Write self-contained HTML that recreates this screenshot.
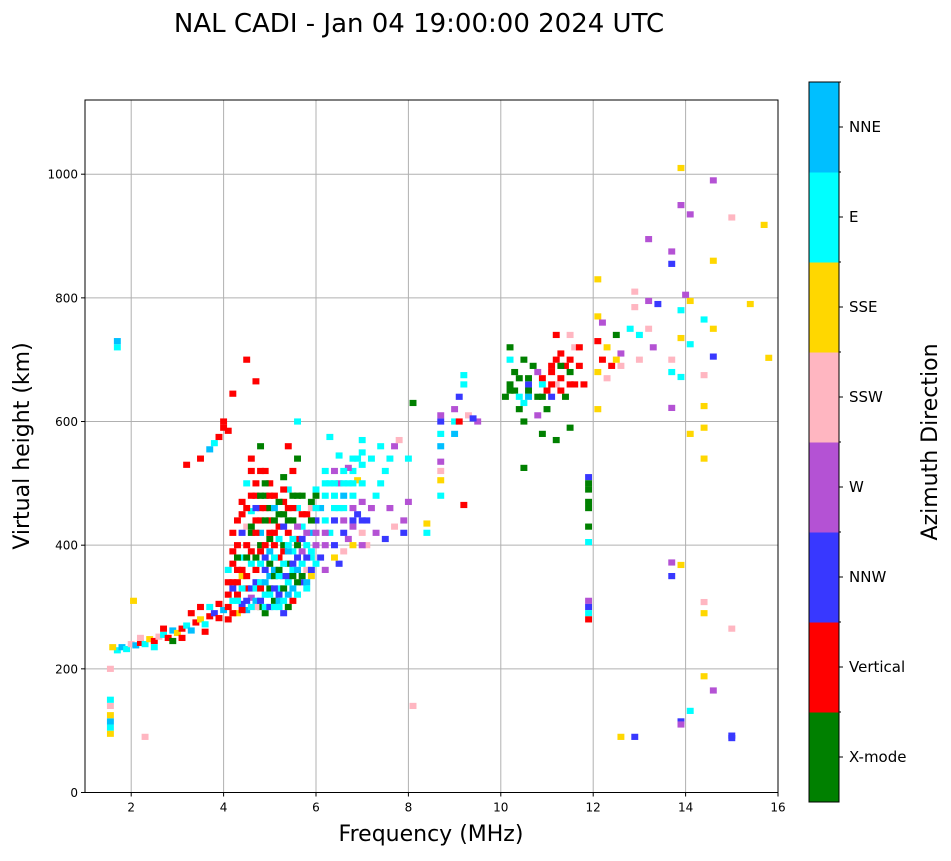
<!DOCTYPE html>
<html><head><meta charset="utf-8"><style>
html,body{margin:0;padding:0;background:#fff}
svg text{font-family:"DejaVu Sans","Liberation Sans",sans-serif}
</style></head><body>
<svg id="chart" width="951" height="856" viewBox="0 0 951 856" xmlns="http://www.w3.org/2000/svg">
<text x="419" y="32" font-size="26" text-anchor="middle">NAL CADI - Jan 04 19:00:00 2024 UTC</text>
<g id="grid"></g>
<g id="marks"></g>
<rect x="85" y="100" width="693" height="692.5" fill="none" stroke="#000" stroke-width="1"/>
<g id="axes"></g>
<text x="431" y="841" font-size="22" text-anchor="middle">Frequency (MHz)</text>
<text transform="translate(29,446) rotate(-90)" font-size="22" text-anchor="middle">Virtual height (km)</text>
<g id="cbar"></g>
<text transform="translate(937,442) rotate(-90)" font-size="22" text-anchor="middle">Azimuth Direction</text>
</svg>
<script>
const dirLabels=["X-mode","Vertical","NNW","W","SSW","SSE","E","NNE"];
const dirColors=["#008000","#ff0000","#3838ff","#b452d4","#ffb6c1","#ffd700","#00ffff","#00bfff"];
const xTicks=[2,4,6,8,10,12,14,16];
const yTicks=[0,200,400,600,800,1000];
const freqs=[1.55,1.55,1.55,1.55,1.55,1.55,1.55,1.7,1.8,1.9,2.0,1.6,1.7,1.7,
2.1,2.2,2.3,2.4,2.5,2.6,2.7,2.8,2.9,3.0,2.2,2.5,2.7,2.9,2.05,
3.1,3.2,3.3,3.4,3.5,3.6,3.7,3.8,3.9,4.0,3.3,3.5,3.7,3.9,3.2,3.5,3.7,3.8,3.9,4.0,4.0,4.1,4.2,3.1,3.6,
4.1,4.2,4.3,4.4,4.5,4.6,4.7,4.8,4.9,5.0,4.2,4.3,4.4,4.5,4.6,4.7,4.8,4.9,5.0,4.1,4.3,4.5,4.7,4.9,4.4,4.6,4.8,5.0,4.3,4.5,4.7,4.9,4.6,4.8,4.5,4.7,4.6,4.8,5.0,4.4,4.2,4.9,4.7,5.0,4.8,
5.1,5.2,5.3,5.4,5.5,5.6,5.7,5.8,5.9,6.0,5.1,5.2,5.3,5.4,5.5,5.6,5.7,5.8,5.9,6.0,5.1,5.2,5.3,5.4,5.5,5.6,5.2,5.4,5.6,5.8,5.3,5.5,5.1,5.3,5.7,5.9,6.0,5.5,5.7,5.9,5.4,5.6,
6.1,6.2,6.3,6.4,6.5,6.6,6.7,6.8,6.9,7.0,6.1,6.2,6.3,6.4,6.5,6.6,6.7,6.8,6.9,7.0,6.3,6.5,6.7,6.9,6.2,6.4,6.6,6.8,7.0,6.5,6.8,
7.1,7.2,7.3,7.4,7.5,7.6,7.7,7.8,7.1,7.3,7.5,7.7,7.9,7.2,7.4,7.0,7.9,8.0,8.0,7.6,
8.1,8.4,8.4,8.7,8.7,8.7,8.7,8.7,8.7,8.7,8.7,9.0,9.0,9.0,9.1,9.1,9.2,9.2,9.3,9.2,9.5,9.4,
10.1,10.2,10.3,10.4,10.5,10.6,10.7,10.8,10.9,11.0,11.1,11.2,11.3,11.4,11.5,11.6,11.7,11.8,10.4,10.5,10.6,10.8,11.0,11.1,11.2,11.4,11.6,10.2,10.5,10.9,11.2,11.5,11.7,11.2,10.5,11.5,10.8,11.3,10.3,
11.9,11.9,11.9,11.9,11.9,11.9,11.9,11.9,11.9,11.9,11.9,
12.1,12.2,12.3,12.4,12.5,12.6,12.8,12.9,13.0,13.2,13.3,12.1,12.1,12.1,12.1,12.3,12.6,13.0,13.2,13.4,13.2,12.9,12.2,12.5,
13.7,13.7,13.9,13.9,14.1,14.6,14.6,15.0,15.7,15.4,15.8,14.1,13.9,13.9,14.1,14.4,14.6,14.6,13.7,13.7,13.9,14.4,13.7,14.1,14.4,14.4,14.4,13.7,13.9,13.7,14.4,14.4,15.0,14.4,14.6,14.1,13.9,13.9,15.0,15.0,12.6,12.9,2.3,8.1,14.0,
4.1,4.1,4.1,4.2,4.2,4.2,4.2,4.3,4.3,4.3,4.3,4.4,4.4,4.4,4.4,4.4,4.5,4.5,4.5,4.5,4.5,4.6,4.6,4.6,4.6,4.6,4.6,4.7,4.7,4.7,4.7,4.7,4.7,
4.8,4.8,4.8,4.8,4.8,4.8,4.8,4.9,4.9,4.9,4.9,4.9,4.9,4.9,5.0,5.0,5.0,5.0,5.0,5.0,5.0,5.1,5.1,5.1,5.1,5.1,5.1,5.1,5.2,5.2,5.2,5.2,5.2,5.2,5.2,
5.3,5.3,5.3,5.3,5.3,5.3,5.3,5.4,5.4,5.4,5.4,5.4,5.4,5.4,5.5,5.5,5.5,5.5,5.5,5.5,5.6,5.6,5.6,5.6,5.6,5.6,5.7,5.7,5.7,5.7,5.8,5.8,5.8,5.8,5.9,5.9,5.9,5.9,6.0,6.0,6.0,6.0,
6.2,6.2,6.2,6.2,6.4,6.4,6.4,6.4,6.6,6.6,6.6,6.6,6.8,6.8,6.8,6.8,7.0,7.0,7.0,7.0,
10.6,10.6,10.9,10.9,11.1,11.1,11.3,11.3,11.5,11.5,10.2,10.2,10.4];
const heights=[95,105,115,125,140,150,200,230,235,232,240,235,720,730,
238,242,240,248,245,252,255,250,262,258,250,235,265,245,310,
265,270,262,275,280,272,285,290,282,295,290,300,300,305,530,540,555,565,575,590,600,585,645,250,260,
300,310,320,305,330,315,340,300,320,350,340,360,380,400,420,440,460,480,500,280,290,295,300,290,350,370,390,410,400,430,480,520,540,560,700,665,455,420,440,450,390,380,360,330,340,
310,330,350,370,390,410,430,450,470,490,360,380,400,420,440,460,340,360,380,400,420,450,470,490,520,540,300,320,340,330,290,310,480,510,390,420,440,360,480,350,560,600,
380,400,420,440,460,480,500,520,540,550,460,480,500,520,370,390,410,430,450,470,575,545,525,505,360,380,420,400,420,500,480,
440,460,480,500,520,540,560,570,400,420,410,430,440,540,560,570,420,470,540,460,
630,435,420,480,520,560,580,600,610,535,505,580,600,620,640,600,660,675,610,465,600,605,
640,700,650,670,630,660,690,640,670,650,680,700,670,690,680,720,690,660,620,600,640,680,620,640,660,640,660,720,700,580,570,740,720,740,525,590,610,710,680,
510,500,490,470,460,430,405,310,300,290,280,
680,700,720,690,740,710,750,785,700,750,720,730,830,770,620,670,690,740,795,790,895,810,760,700,
875,855,950,1010,935,990,860,930,918,790,703,795,780,735,725,765,750,705,700,680,672,675,622,580,625,590,540,372,368,350,308,290,265,188,165,132,115,110,92,88,90,90,90,140,805,
320,340,360,290,330,370,420,310,340,380,440,295,330,360,420,470,310,350,380,460,500,300,330,390,430,480,520,310,330,380,420,460,500,
310,330,370,400,440,480,520,300,340,360,400,440,460,500,300,320,370,390,420,460,480,300,330,350,380,400,440,460,310,320,350,360,410,430,470,
310,330,370,390,430,450,490,300,340,350,390,400,440,460,330,350,370,410,460,480,320,360,380,400,430,480,350,370,410,450,340,380,400,420,360,390,440,460,370,420,460,480,
420,440,500,520,400,460,480,500,440,460,500,520,440,460,500,540,400,440,500,530,
650,670,640,660,660,690,650,690,660,700,650,660,640];
const dirs=[5,6,7,5,4,6,4,6,7,6,4,5,6,7,
7,1,6,5,1,4,6,1,7,5,4,6,1,0,5,
1,6,7,1,5,6,1,2,1,7,1,1,6,1,1,1,7,6,1,1,1,1,1,1,1,
1,6,1,2,1,3,2,0,6,7,1,1,6,1,0,1,1,0,1,1,5,7,4,0,5,6,1,0,1,4,1,1,1,0,1,1,6,7,1,1,1,2,1,0,6,
0,6,2,0,6,1,6,1,0,6,7,1,0,1,0,6,2,4,6,3,1,0,1,6,1,0,6,7,0,6,2,1,1,0,3,7,2,6,0,5,1,6,
2,3,6,2,6,7,6,6,6,6,7,6,6,3,2,4,3,3,2,3,6,6,3,5,3,5,2,5,4,3,6,
2,3,6,6,6,6,3,4,4,3,2,4,3,6,6,6,2,3,6,3,
0,5,6,6,4,7,6,2,3,3,5,7,6,3,2,1,6,6,4,1,3,2,
0,6,0,0,6,2,0,0,1,1,1,1,1,1,0,4,1,1,0,0,7,3,0,2,4,0,1,0,0,0,0,4,1,1,0,0,3,1,0,
2,0,0,0,0,0,6,3,2,6,1,
5,1,5,1,0,3,6,4,4,4,3,1,5,5,5,4,4,6,3,2,3,4,3,5,
3,2,3,5,3,3,5,4,5,5,5,5,6,5,6,6,5,2,4,6,6,4,3,5,5,5,5,3,5,2,4,5,4,5,3,6,2,3,2,2,5,2,4,4,3,
1,1,6,1,2,1,1,6,1,0,1,1,6,1,2,1,2,1,0,1,6,6,2,1,0,1,1,7,6,0,1,2,1,
2,1,6,0,1,0,1,6,7,2,1,0,1,0,2,6,0,7,1,0,1,6,2,0,6,1,0,7,7,2,6,0,6,1,0,
6,0,6,1,2,0,1,0,6,2,7,6,0,1,7,0,2,6,1,0,6,7,2,0,3,0,0,6,2,1,7,2,6,3,2,6,0,4,6,3,6,0,
3,6,6,6,2,6,6,6,3,6,6,6,2,3,6,6,3,2,6,6,
0,0,0,6,1,1,1,0,1,1,0,0,6];
const X0=85,X1=778,Y0=792.5,Y1=100,xmin=1,xmax=16,ymin=0,ymax=1120;
const xs=v=>X0+(v-xmin)/(xmax-xmin)*(X1-X0);
const ys=v=>Y0-(v-ymin)/(ymax-ymin)*(Y0-Y1);
const NS="http://www.w3.org/2000/svg";
function mk(tag,attrs,parent){const e=document.createElementNS(NS,tag);for(const k in attrs)e.setAttribute(k,attrs[k]);parent.appendChild(e);return e;}
const grid=document.getElementById('grid'),axes=document.getElementById('axes'),marks=document.getElementById('marks'),cbar=document.getElementById('cbar');
xTicks.forEach(t=>{const x=xs(t);
 if(t<16){const g=mk('line',{x1:x,x2:x,y1:Y1,y2:Y0,stroke:'#b0b0b0','stroke-width':1},grid);}
 const tk=mk('line',{x1:x,x2:x,y1:Y0,y2:Y0+4,stroke:'#000'},axes);
 const tl=mk('text',{x:x,y:Y0+19,'font-size':12,'text-anchor':'middle'},axes);tl.textContent=t;});
yTicks.forEach(t=>{const y=ys(t);
 if(t>0){const g=mk('line',{x1:X0,x2:X1,y1:y,y2:y,stroke:'#b0b0b0','stroke-width':1},grid);}
 const tk=mk('line',{x1:X0-4,x2:X0,y1:y,y2:y,stroke:'#000'},axes);
 const tl=mk('text',{x:X0-7,y:y+4.5,'font-size':12,'text-anchor':'end'},axes);tl.textContent=t;});
const cw=0.15,ch=10;
for(let i=0;i<freqs.length;i++){
 const x=xs(freqs[i]-cw/2),y=ys(heights[i]+ch/2);
 const r=mk('rect',{x:x,y:y,width:xs(freqs[i]+cw/2)-x,height:ys(heights[i]-ch/2)-y,fill:dirColors[dirs[i]]},marks);
 
 
}
const CX=809,CW=30,CT=82,CB=802,n=dirLabels.length,seg=(CB-CT)/n;
dirLabels.forEach((l,i)=>{const y=CB-(i+1)*seg;
 const r=mk('rect',{x:CX,y:y,width:CW,height:seg+0.5,fill:dirColors[i]},cbar);
 const tk=mk('line',{x1:CX+CW,x2:CX+CW+4,y1:y+seg/2,y2:y+seg/2,stroke:'#000'},cbar);
 const mt=mk('line',{x1:CX+CW,x2:CX+CW+2,y1:y,y2:y,stroke:'#000'},cbar);
 const t=mk('text',{x:CX+CW+10,y:y+seg/2+5,'font-size':15},cbar);t.textContent=l;});
const fr=mk('rect',{x:CX,y:CT,width:CW,height:CB-CT,fill:'none',stroke:'#000'},cbar);
</script>
</body></html>
